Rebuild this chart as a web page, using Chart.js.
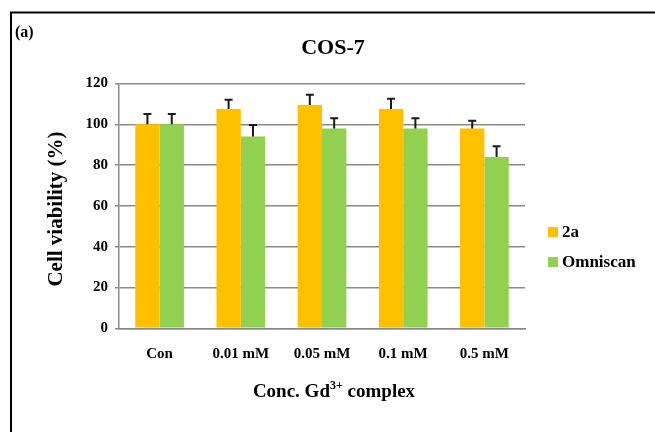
<!DOCTYPE html>
<html>
<head>
<meta charset="utf-8">
<script src="https://cdn.jsdelivr.net/npm/chart.js@4/dist/chart.umd.min.js"></script>
<style>
  html, body { margin: 0; padding: 0; background: #fff; }
  #wrap { width: 655px; height: 432px; position: relative; }
</style>
</head>
<body>
<div id="wrap"><canvas id="c" width="655" height="432"></canvas></div>
<script>
// Cell viability of COS-7 cells vs. Gd3+ complex concentration
const categories = ['Con', '0.01 mM', '0.05 mM', '0.1 mM', '0.5 mM'];
const seriesNames = ['2a', 'Omniscan'];
const values2a = [100, 107.5, 109.5, 107.5, 98];
const valuesOmniscan = [100, 94, 98, 98, 84];
const err2a = [5, 4.5, 5, 5, 3.7];
const errOmniscan = [5, 5.7, 5, 5, 5.3];
const yTicks = [0, 20, 40, 60, 80, 100, 120];

const colors = ['#FFC000', '#92D050'];
const serif = '"Liberation Serif", "Times New Roman", serif';

// upward-only error bars with caps
const errorBars = {
  id: 'errorBars',
  afterDatasetsDraw(chart) {
    const ctx = chart.ctx;
    const y = chart.scales.y;
    const errs = [err2a, errOmniscan];
    ctx.save();
    ctx.strokeStyle = '#1a1a1a';
    ctx.lineWidth = 2;
    chart.data.datasets.forEach((ds, di) => {
      const meta = chart.getDatasetMeta(di);
      meta.data.forEach((bar, i) => {
        const top = y.getPixelForValue(ds.data[i] + errs[di][i]);
        const base = y.getPixelForValue(ds.data[i]);
        ctx.beginPath();
        ctx.moveTo(bar.x, base);
        ctx.lineTo(bar.x, top);
        ctx.moveTo(bar.x - 4, top);
        ctx.lineTo(bar.x + 4, top);
        ctx.stroke();
      });
    });
    ctx.restore();
  }
};

// frame, panel tag, title, axis titles and legend
const decorations = {
  id: 'decorations',
  afterDraw(chart) {
    const ctx = chart.ctx;
    ctx.save();
    ctx.strokeStyle = '#000';
    ctx.lineWidth = 2;
    ctx.beginPath();
    ctx.moveTo(11, 432);
    ctx.lineTo(11, 12.5);
    ctx.lineTo(655, 12.5);
    ctx.stroke();

    ctx.fillStyle = '#000';
    ctx.textBaseline = 'middle';
    ctx.textAlign = 'left';
    ctx.font = 'bold 16px ' + serif;
    ctx.fillText('(a)', 15, 33);

    ctx.textAlign = 'center';
    ctx.font = 'bold 22px ' + serif;
    ctx.fillText('COS-7', 333, 48);

    // y-axis title, rotated
    ctx.save();
    ctx.translate(57, 209);
    ctx.rotate(-Math.PI / 2);
    ctx.font = 'bold 21px ' + serif;
    ctx.fillText('Cell viability (%)', 0, 0);
    ctx.restore();

    // x-axis title with superscript charge
    const cx = 334;
    const cy = 392;
    const big = 'bold 19px ' + serif;
    const small = 'bold 12px ' + serif;
    const p1 = 'Conc. Gd', p2 = '3+', p3 = ' complex';
    ctx.font = big; const w1 = ctx.measureText(p1).width, w3 = ctx.measureText(p3).width;
    ctx.font = small; const w2 = ctx.measureText(p2).width;
    let x = cx - (w1 + w2 + w3) / 2;
    ctx.textAlign = 'left';
    ctx.font = big; ctx.fillText(p1, x, cy); x += w1;
    ctx.font = small; ctx.fillText(p2, x, cy - 6); x += w2;
    ctx.font = big; ctx.fillText(p3, x, cy);

    // legend
    ctx.font = 'bold 17px ' + serif;
    seriesNames.forEach((name, i) => {
      const ly = 232 + i * 30;
      ctx.fillStyle = colors[i];
      ctx.fillRect(548, ly - 5, 10, 10);
      ctx.fillStyle = '#000';
      ctx.fillText(name, 562, ly + 1);
    });
    ctx.restore();
  }
};

new Chart(document.getElementById('c'), {
  type: 'bar',
  data: {
    labels: categories,
    datasets: [
      { label: seriesNames[0], data: values2a, backgroundColor: colors[0] },
      { label: seriesNames[1], data: valuesOmniscan, backgroundColor: colors[1] }
    ]
  },
  options: {
    responsive: false,
    animation: false,
    events: [],
    layout: { padding: { left: 12, right: 130, top: 83.5, bottom: 0 } },
    datasets: { bar: { categoryPercentage: 0.6, barPercentage: 1.0 } },
    plugins: { legend: { display: false }, title: { display: false }, tooltip: { enabled: false } },
    scales: {
      x: {
        grid: { display: false, drawTicks: false },
        border: { display: true, color: '#8a8a8a', width: 1.5 },
        ticks: { color: '#000', font: { family: serif, size: 15, weight: 'bold' }, padding: 17, maxRotation: 0 },
        afterFit(s) { s.height = 432 - 328.3; }
      },
      y: {
        min: 0, max: 120,
        afterBuildTicks(s) { s.ticks = yTicks.map(v => ({ value: v })); },
        grid: { color: '#8a8a8a', lineWidth: 1.5, tickLength: 4 },
        border: { display: true, color: '#8a8a8a', width: 1.5 },
        ticks: { color: '#000', font: { family: serif, size: 15, weight: 'bold' }, padding: 7 },
        afterFit(s) { s.width = 119 - 12; }
      }
    }
  },
  plugins: [errorBars, decorations]
});
</script>
</body>
</html>
